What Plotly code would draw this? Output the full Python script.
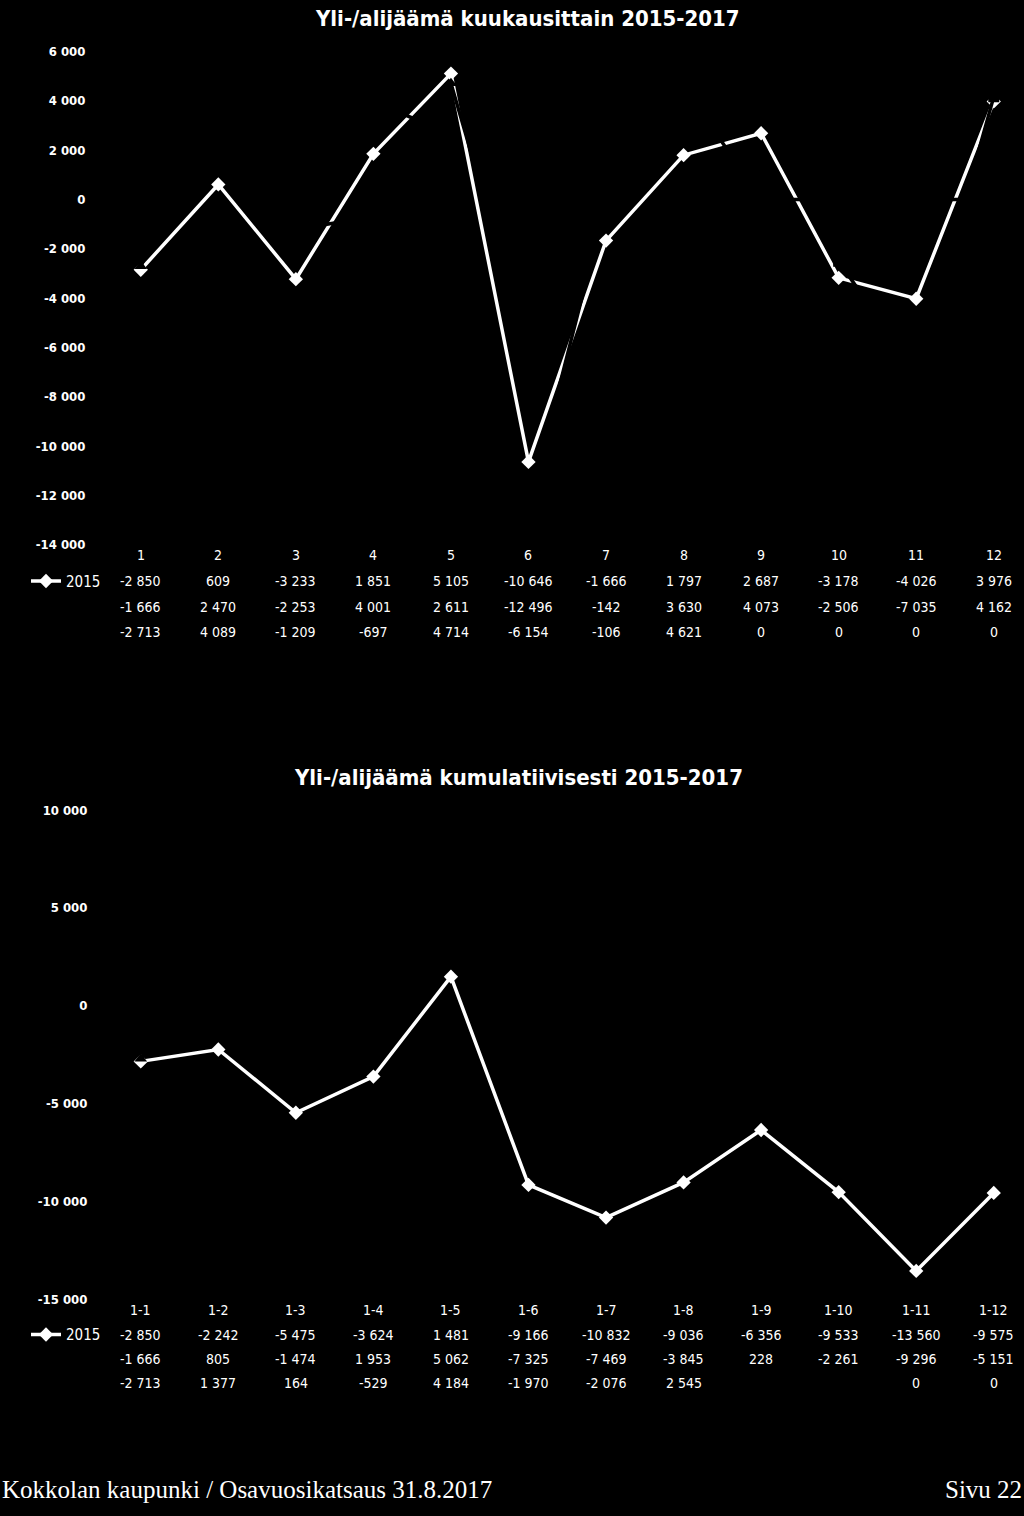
import plotly.graph_objects as go

BACKGROUND = "black"
NARROW = "Liberation Sans Narrow, DejaVu Sans Condensed, Arial Narrow, Liberation Sans, sans-serif"
SERIF = "Liberation Serif, DejaVu Serif, serif"

months = [str(m) for m in range(1, 13)]
monthly_2015 = [-2850, 609, -3233, 1851, 5105, -10646, -1666, 1797, 2687, -3178, -4026, 3976]
monthly_2016 = [-1666, 2470, -2253, 4001, 2611, -12496, -142, 3630, 4073, -2506, -7035, 4162]
monthly_2017 = [-2713, 4089, -1209, -697, 4714, -6154, -106, 4621, 0, 0, 0, 0]

periods = ["1-%d" % m for m in range(1, 13)]
cumulative_2015 = [-2850, -2242, -5475, -3624, 1481, -9166, -10832, -9036, -6356, -9533, -13560, -9575]
cumulative_2016 = [-1666, 805, -1474, 1953, 5062, -7325, -7469, -3845, 228, -2261, -9296, -5151]
cumulative_2017 = [-2713, 1377, 164, -529, 4184, -1970, -2076, 2545, None, None, 0, 0]

years = ["2015", "2016", "2017"]

monthly_ticks = [6000, 4000, 2000, 0, -2000, -4000, -6000, -8000, -10000, -12000, -14000]
monthly_ticktext = ["6 000", "4 000", "2 000", "0", "-2 000", "-4 000", "-6 000", "-8 000",
                    "-10 000", "-12 000", "-14 000"]
cumulative_ticks = [10000, 5000, 0, -5000, -10000, -15000]
cumulative_ticktext = ["10 000", "5 000", "0", "-5 000", "-10 000", "-15 000"]


def fmt(v):
    if v is None:
        return ""
    return "{:,}".format(v).replace(",", " ")


def px_y(p):
    # pixel row -> paper fraction
    return 1 - p / 1516


fig = go.Figure()

styles = [
    dict(color="white", symbol="diamond"),
    dict(color="black", symbol="square"),
    dict(color="black", symbol="triangle-up"),
]

for year, vals, st in zip(years, [monthly_2015, monthly_2016, monthly_2017], styles):
    fig.add_trace(go.Scatter(
        x=months, y=vals, name=year, mode="lines+markers",
        line=dict(color=st["color"], width=3.5),
        marker=dict(symbol=st["symbol"], size=11, color=st["color"]),
        xaxis="x", yaxis="y", legend="legend", showlegend=(year == "2015"),
    ))

for year, vals, st in zip(years, [cumulative_2015, cumulative_2016, cumulative_2017], styles):
    fig.add_trace(go.Scatter(
        x=periods, y=vals, name=year, mode="lines+markers",
        line=dict(color=st["color"], width=3.5),
        marker=dict(symbol=st["symbol"], size=11, color=st["color"]),
        xaxis="x2", yaxis="y2", legend="legend2", showlegend=(year == "2015"),
    ))

annotations = []


# data tables under the charts (x given as category index)
def add_table(cats, rows, xref, header_px, row_px):
    cell_font = dict(family=NARROW, size=14, color="white")
    for i, c in enumerate(cats):
        annotations.append(dict(
            x=i, y=px_y(header_px), xref=xref, yref="paper", text=c,
            xanchor="center", yanchor="middle", showarrow=False, font=cell_font,
        ))
    for vals, rp in zip(rows, row_px):
        for i, v in enumerate(vals):
            annotations.append(dict(
                x=i, y=px_y(rp), xref=xref, yref="paper", text=fmt(v),
                xanchor="center", yanchor="middle", showarrow=False, font=cell_font,
            ))


add_table(months, [monthly_2015, monthly_2016, monthly_2017], "x", 553, [580, 606, 631])
add_table(periods, [cumulative_2015, cumulative_2016, cumulative_2017], "x2", 1316, [1341, 1366, 1390])

title_font = dict(family=NARROW, size=22, color="white", weight="bold")
footer_font = dict(family=SERIF, size=25, color="white")
annotations += [
    dict(x=527 / 1024, y=px_y(12), xref="paper", yref="paper", xanchor="center", yanchor="middle",
         text="Yli-/alijäämä kuukausittain 2015-2017", showarrow=False, font=title_font),
    dict(x=518 / 1024, y=px_y(778), xref="paper", yref="paper", xanchor="center", yanchor="middle",
         text="Yli-/alijäämä kumulatiivisesti 2015-2017", showarrow=False, font=title_font),
    dict(x=0, y=px_y(1497), xref="paper", yref="paper", xanchor="left", yanchor="middle",
         text="Kokkolan kaupunki / Osavuosikatsaus 31.8.2017", showarrow=False, font=footer_font),
    dict(x=1, y=px_y(1497), xref="paper", yref="paper", xanchor="right", yanchor="middle",
         text="Sivu 22", showarrow=False, font=footer_font),
]

x_domain = [102 / 1024, 1]
axis_common = dict(showgrid=False, zeroline=False, showline=False)
tick_font = dict(family=NARROW, size=13, color="white", weight="bold")
legend_common = dict(xanchor="left", yanchor="middle", bgcolor="rgba(0,0,0,0)", itemwidth=30,
                     font=dict(family=NARROW, size=15, color="white"))

fig.update_layout(
    width=1024, height=1516,
    margin=dict(l=0, r=0, t=0, b=0),
    paper_bgcolor=BACKGROUND, plot_bgcolor=BACKGROUND,
    annotations=annotations,
    xaxis=dict(domain=x_domain, type="category", range=[-0.5, 11.39], showticklabels=False,
               anchor="y", **axis_common),
    yaxis=dict(domain=[px_y(543), px_y(45)], range=[-14000, 6000], anchor="x",
               tickvals=monthly_ticks, ticktext=monthly_ticktext,
               ticks="outside", ticklen=13, tickcolor=BACKGROUND, tickfont=tick_font, **axis_common),
    xaxis2=dict(domain=x_domain, type="category", range=[-0.5, 11.39], showticklabels=False,
                anchor="y2", **axis_common),
    yaxis2=dict(domain=[px_y(1305), px_y(811)], range=[-15000, 10000], anchor="x2",
                tickvals=cumulative_ticks, ticktext=cumulative_ticktext,
                ticks="outside", ticklen=11, tickcolor=BACKGROUND, tickfont=tick_font, **axis_common),
    legend=dict(x=26 / 1024, y=px_y(580), **legend_common),
    legend2=dict(x=26 / 1024, y=px_y(1341), **legend_common),
)

fig.write_html(
    "out.html",
    config={"displayModeBar": False},
    post_script="document.body.style.margin='0';document.body.style.background='black';",
)
